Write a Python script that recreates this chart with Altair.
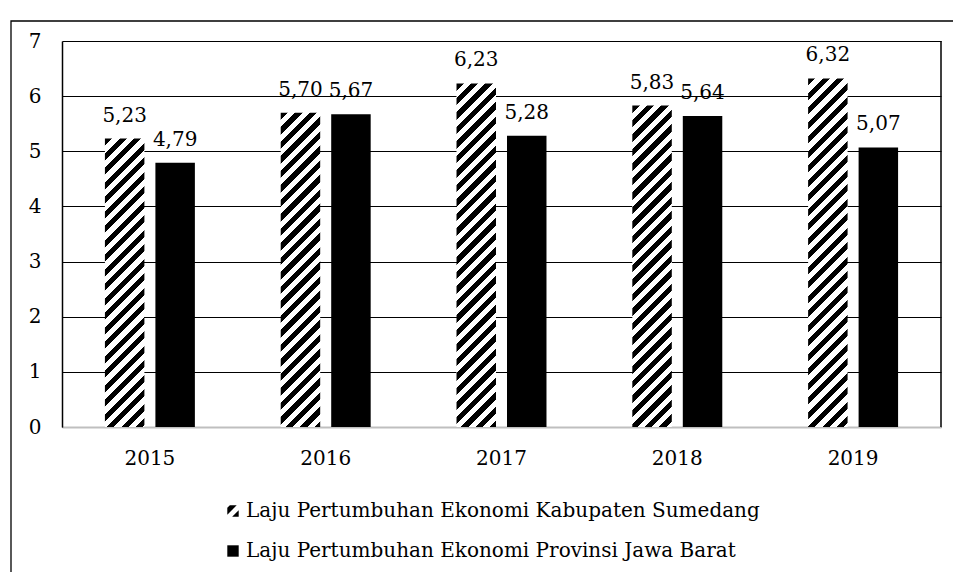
import altair as alt
import pandas as pd

# ---- data ----
years = ["2015", "2016", "2017", "2018", "2019"]
series = [
    "Laju Pertumbuhan Ekonomi Kabupaten Sumedang",
    "Laju Pertumbuhan Ekonomi Provinsi Jawa Barat",
]
sumedang = [5.23, 5.70, 6.23, 5.83, 6.32]
jabar = [4.79, 5.67, 5.28, 5.64, 5.07]
y_ticks = [0, 1, 2, 3, 4, 5, 6, 7]

rows = []
for y, a, b in zip(years, sumedang, jabar):
    rows.append({"year": y, "series": series[0], "value": a})
    rows.append({"year": y, "series": series[1], "value": b})
df = pd.DataFrame(rows)

# ---- layout / style ----
W, H = 879, 386
YMAX = 7
FONT = "DejaVu Serif"
FS = 20
PI, PO = 0.218, 0.85
step = (W / len(years)) / (2 - PI + 2 * PO)
BAR_W = step * (1 - PI)
PERIOD = 14.5  # hatch period in px along x+y


def hatch_gradient(w, h, period=PERIOD):
    """Diagonal '/' stripes as a hard-stop linear gradient in bbox units."""
    k = (w + h) / (w * w + h * h)
    p = period / (w + h)
    stops = []
    t = 0.0
    while t < 1.0:
        a = min(t + p * 0.5, 1.0)
        b = min(t + p, 1.0)
        stops += [
            alt.GradientStop(offset=t, color="black"),
            alt.GradientStop(offset=a, color="black"),
            alt.GradientStop(offset=a, color="white"),
            alt.GradientStop(offset=b, color="white"),
        ]
        t += p
    return alt.LinearGradient(
        gradient="linear", stops=stops, x1=0, y1=0, x2=k * w, y2=k * h
    )


HATCH_PATH = "M-0.55,-1L0.65,-1L-1,0.65L-1,-0.55Z M1,-0.15L1,1L-0.15,1Z"

x_enc = alt.X(
    "year:N",
    sort=years,
    scale=alt.Scale(paddingInner=0, paddingOuter=0),
    axis=alt.Axis(
        title=None, labelAngle=0, ticks=False, labelPadding=21,
        labelFont=FONT, labelFontSize=FS, labelColor="black",
        domainColor="#bfbfbf", domainWidth=2, grid=False,
    ),
)
xoff_enc = alt.XOffset(
    "series:N", sort=series,
    scale=alt.Scale(domain=series, paddingInner=PI, paddingOuter=PO),
)
y_enc = alt.Y(
    "value:Q",
    scale=alt.Scale(domain=[0, YMAX], nice=False),
    axis=alt.Axis(
        title=None, values=y_ticks, ticks=False, labelPadding=21,
        labelFont=FONT, labelFontSize=FS, labelColor="black",
        domainColor="black", domainWidth=1.5,
        grid=True, gridColor="black", gridWidth=1,
    ),
)

base = alt.Chart(df).encode(x=x_enc, xOffset=xoff_enc, y=y_enc)

layers = []
for yr, v in zip(years, sumedang):
    h = v * H / YMAX
    layers.append(
        base.transform_filter(
            (alt.datum.series == series[0]) & (alt.datum.year == yr)
        ).mark_bar(fill=hatch_gradient(BAR_W, h), strokeWidth=0)
    )

layers.append(
    base.transform_filter(alt.datum.series == series[1]).mark_bar(
        fill="black", strokeWidth=0
    )
)

labels = base.transform_calculate(
    label="replace(format(datum.value, '.2f'), '.', ',')"
).mark_text(
    dy=-17, baseline="alphabetic", align="center",
    font=FONT, fontSize=FS, color="black",
).encode(text="label:N")
layers.append(labels)

legend_pts = base.mark_point(filled=True, opacity=0, size=130).encode(
    shape=alt.Shape(
        "series:N",
        sort=series,
        scale=alt.Scale(domain=series, range=[HATCH_PATH, "square"]),
        legend=alt.Legend(
            title=None, orient="none", legendX=161, legendY=460,
            direction="vertical", padding=0,
            labelFont=FONT, labelFontSize=FS, labelColor="black",
            labelLimit=0, labelOffset=3, rowPadding=20,
            symbolFillColor="black", symbolStrokeWidth=0,
            symbolOpacity=1, symbolSize=130,
        ),
    ),
    color=alt.value("black"),
)
layers.append(legend_pts)

one = alt.Chart(pd.DataFrame({"k": [0]}))
right_border = one.mark_rule(color="black", strokeWidth=1.5).encode(
    x=alt.value(W), y=alt.value(0), y2=alt.value(H)
)
outer_frame = one.mark_rect(
    fill="white", fillOpacity=0, stroke="black", strokeWidth=1.3
).encode(
    x=alt.value(-51), x2=alt.value(W + 300),
    y=alt.value(-20), y2=alt.value(H + 400),
)
layers += [right_border, outer_frame]

chart = alt.layer(*layers).properties(
    width=W,
    height=H,
    autosize=alt.AutoSizeParams(type="none"),
    padding={"left": 54, "top": 33, "right": 12, "bottom": 145},
    background="white",
).configure_view(stroke=None)

chart.save("out.html", embed_options={"renderer": "svg", "actions": False})
